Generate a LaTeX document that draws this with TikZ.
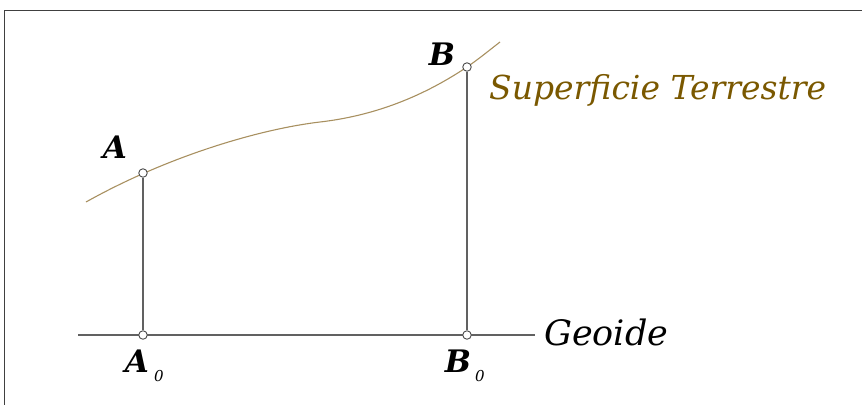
\documentclass[tikz,border=0pt]{standalone}
\usepackage{fontspec}
\setmainfont{DejaVu Serif}
\begin{document}
\begin{tikzpicture}[x=1pt,y=-1pt,
  frame/.style={draw=black!75,line width=1pt},
  stem/.style={draw=black!62,line width=1.2pt},
  surf/.style={draw=surfcol,line width=1.1pt},
  pt/.style={circle,draw=black!70,fill=white,inner sep=0pt,minimum size=8.5pt,line width=0.9pt},
  lab/.style={font=\fontsize{31}{31}\selectfont\bfseries\itshape,inner sep=0pt},
  sub/.style={font=\fontsize{15}{15}\selectfont\itshape,inner sep=0pt}]
\definecolor{surfcol}{HTML}{A89060}
\definecolor{txtcol}{HTML}{7A5800}
\useasboundingbox (0,0) rectangle (862,405);
\coordinate (tl) at (4.5,10);
\coordinate (tr) at (862,10);
\coordinate (bl) at (4.5,405);
\draw[frame] (tr) -- (tl) -- (bl);
% geoid
\coordinate (g1) at (78,335);
\coordinate (g2) at (535,335);
\draw[stem] (g1) -- (g2);
% surface
\coordinate (s0) at (86,202);
\coordinate (s1) at (320,122);
\coordinate (s2) at (467,67);
\coordinate (s3) at (500,42);
\draw[surf] (s0) .. controls (170,155) and (262,128.8) .. (s1)
  .. controls (369,116.3) and (418,99.8) .. (s2)
  .. controls (478,59.6) and (489,50.5) .. (s3);
\node[pt] (A) at (143,173) {};
\node[pt] (B) at (s2) {};
\node[pt] (A0) at (143,335) {};
\node[pt] (B0) at (467,335) {};
\draw[stem] (A) -- (A0);
\draw[stem] (B) -- (B0);
\node[lab] (lA) at (115,147) {A};
\node[lab] (lB) at (442,54) {B};
\node[lab] (lA0) at (137,361) {A};
\node[sub] (sA0) at (159,376) {0};
\node[lab] (lB0) at (458,361) {B};
\node[sub] (sB0) at (480,376) {0};
\node[font=\fontsize{33}{33}\selectfont\itshape,text=txtcol,anchor=base west,inner sep=0pt] (st) at (489,99) {Superficie Terrestre};
\node[font=\fontsize{35}{35}\selectfont\itshape,anchor=base west,inner sep=0pt] (ge) at (544,345) {Geoide};
\end{tikzpicture}
\end{document}
